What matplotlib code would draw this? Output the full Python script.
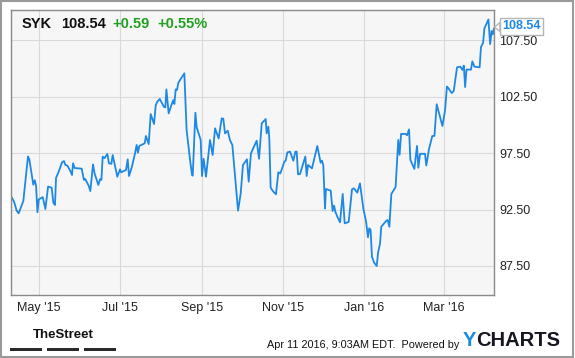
import pandas as pd
import matplotlib
matplotlib.use("Agg")
import matplotlib.pyplot as plt
from matplotlib.patches import Rectangle, Polygon

plt.rcParams['font.family'] = ['Liberation Sans', 'DejaVu Sans']

# SYK daily close (days counted from 2015-04-10)
start = pd.Timestamp('2015-04-10')
days = [0, 2.5, 4.5, 6.0, 9.5, 13.0, 14.0, 17.0, 18.1, 19.1, 20.1, 21.1, 24.1, 26.1, 28.1,
        30.8, 32.1, 33.3, 34.1, 36.1, 38.6, 40.1, 41.1, 42.6, 45.1, 46.1, 46.9, 48.1, 53.4,
        55.1, 56.1, 58.7, 59.9, 61.9, 63.1, 65.9, 67.2, 68.2, 69.2, 70.5, 72.7, 73.9, 75.7,
        76.7, 80.2, 82.2, 83.0, 86.7, 88.0, 89.0, 91.2, 93.5, 94.7, 95.7, 96.7, 100.8, 101.7,
        103.8, 105.3, 107.8, 109.1, 110.3, 112.1, 115.3, 116.3, 117.1, 118.8, 121.3, 122.3,
        123.1, 124.1, 125.1, 126.1, 130.6, 132.3, 134.9, 136.4, 136.9, 138.9, 139.9, 142.9,
        143.9, 145.1, 146.9, 149.9, 151.9, 153.7, 156.4, 158.7, 159.9, 161.2, 163.2, 164.9,
        166.7, 171.0, 173.0, 174.7, 177.7, 179.0, 180.7, 185.0, 186.8, 188.8, 191.8, 192.5,
        193.8, 194.5, 195.5, 197.5, 199.5, 201.3, 202.8, 205.8, 206.8, 208.1, 210.1, 212.6,
        214.1, 215.1, 216.1, 217.6, 220.1, 221.6, 222.6, 223.6, 226.6, 230.6, 233.1, 234.1,
        235.1, 236.4, 237.1, 240.7, 242.1, 243.2, 244.2, 245.7, 247.7, 249.7, 251.2, 254.2,
        256.7, 258.2, 260.7, 262.7, 263.7, 265.2, 267.3, 268.7, 269.7, 270.7, 271.7, 273.3,
        275.3, 276.3, 277.8, 278.7, 282.3, 283.5, 284.8, 286.3, 289.5, 291.5, 292.5, 293.6,
        297.1, 298.1, 299.6, 300.6, 303.6, 305.6, 306.6, 307.9, 311.6, 312.6, 314.6, 317.1,
        318.7, 320.4, 324.7, 326.7, 328.1, 329.2, 331.7, 333.2, 335.7, 338.2, 339.7, 340.8,
        341.8, 342.8, 346.2, 347.2, 348.8, 352.7, 353.7, 355.3, 356.3, 359.3, 360.6, 361.7,
        362.7, 363.5]
prices = [93.73, 93.2, 92.4, 92.17, 93.26, 97.2, 96.95, 94.7, 95.1, 94.6, 92.26, 93.4, 93.6, 92.55, 94.53,
          94.44, 93.1, 92.9, 95.3, 95.86, 96.68, 96.8, 96.45, 96.4, 95.86, 95.56, 96.6, 96.18, 96.12,
          95.12, 95.2, 94.6, 94.14, 96.5, 95.7, 94.68, 95.18, 95.12, 97.19, 97.05, 97.42, 96.6, 96.55,
          97.33, 95.41, 96.06, 95.8, 96.0, 96.95, 95.47, 96.3, 97.48, 98.22, 97.54, 98.13, 98.37, 99.02,
          98.3, 100.96, 100.08, 101.76, 102.06, 102.3, 101.6, 101.55, 103.15, 101.02, 101.9, 102.2,
          101.85, 103.15, 103.1, 103.74, 104.57, 99.55, 96.89, 95.56, 95.5, 101.08, 99.78, 98.66,
          95.47, 97.0, 95.41, 98.66, 97.33, 99.7, 98.8, 100.58, 100.55, 99.25, 99.49, 98.66,
          98.22, 92.4, 93.94, 96.45, 96.95, 94.97, 97.48, 98.6, 97.0, 100.14, 100.52, 99.25,
          99.84, 98.81, 94.44, 94.09, 93.85, 95.8, 95.7, 96.74, 96.83, 97.57, 97.63, 96.83,
          97.63, 97.63, 95.62, 95.65, 96.6, 97.2, 95.47, 96.45, 96.15, 98.13, 96.65, 96.83,
          96.45, 92.6, 94.32, 94.17, 92.37, 92.85, 92.3, 91.86, 91.37, 93.88, 91.28, 91.4,
          94.29, 94.38, 94.0, 94.82, 93.94, 92.6, 91.43, 90.04, 90.84, 90.69, 88.33, 87.8,
          87.5, 88.68, 89.5, 90.98, 91.48, 91.58, 90.98, 93.88, 94.5, 98.67, 97.35, 99.2,
          99.2, 99.08, 99.6, 96.9, 96.1, 98.14, 96.2, 97.44, 97.44, 96.4, 97.85, 99.02,
          99.02, 101.83, 99.9, 101.3, 103.4, 103.26, 102.82, 103.0, 105.1, 105.16, 104.87, 105.25,
          103.35, 104.9, 104.9, 105.63, 105.16, 105.1, 106.9, 107.27, 108.55, 109.34, 107.15, 108.32,
          108.03, 108.54]
yticks = [87.5, 92.5, 97.5, 102.5, 107.5]
xtick_dates = ['2015-05-01', '2015-07-01', '2015-09-01', '2015-11-01', '2016-01-01', '2016-03-01']
xtick_labels = ["May '15", "Jul '15", "Sep '15", "Nov '15", "Jan '16", "Mar '16"]

dates = start + pd.to_timedelta(days, unit='D')

W, H = 575, 358
fig = plt.figure(figsize=(W / 100, H / 100), dpi=100)


def fx(x):
    return x / W


def fy(y):
    return 1 - y / H


ax = fig.add_axes([fx(10.7), fy(295), (494 - 10.7) / W, (295 - 10) / H])
ax.set_facecolor('#f6f6f6')
ax.plot(dates, prices, color='#1e88e5', lw=1.3)

ax.set_xlim(start, start + pd.Timedelta(days=363.5))
ax.set_ylim(84.93, 110.18)
ax.yaxis.tick_right()
ax.set_yticks(yticks)
ax.set_yticklabels([f"{v:.2f}" for v in yticks])
ax.set_xticks(pd.to_datetime(xtick_dates))
ax.set_xticklabels(xtick_labels)
ax.tick_params(length=0, labelsize=9, labelcolor='#222222')
ax.tick_params(axis='x', pad=5)
ax.tick_params(axis='y', pad=4)
ax.grid(True, color='#d9d9d9', lw=0.8)
ax.set_axisbelow(True)
for s in ax.spines.values():
    s.set_color('#8a8a8a')
    s.set_linewidth(1.0)

# header
fig.text(fx(21.5), fy(24), 'SYK', fontsize=10.5, fontweight='bold', va='center', color='#111111')
fig.text(fx(61), fy(24), '108.54', fontsize=10.5, fontweight='bold', va='center', color='#111111')
fig.text(fx(112), fy(24), '+0.59', fontsize=10.5, fontweight='bold', va='center', color='#20a020')
fig.text(fx(157), fy(24), '+0.55%', fontsize=10.5, fontweight='bold', va='center', color='#20a020')

# last price tag with its small pointer
fig.add_artist(Polygon([(fx(494.5), fy(27)), (fx(500), fy(22.5)), (fx(500), fy(31.5))],
                       closed=True, transform=fig.transFigure, fc='white', ec='#b5b5b5', lw=1))
fig.text(fx(521.5), fy(26), '108.54', fontsize=9, fontweight='bold', ha='center', va='center',
         color='#1e88e5',
         bbox=dict(boxstyle='square,pad=0.2', fc='white', ec='#b5b5b5', lw=1))

# footer
fig.text(fx(63), fy(335), 'TheStreet', fontsize=9.5, fontweight='bold', ha='center', va='center',
         color='#111111')
for x0, x1 in [(10, 42), (47, 79), (84, 115.6)]:
    fig.add_artist(Rectangle((fx(x0), fy(351)), (x1 - x0) / W, 3.3 / H,
                             transform=fig.transFigure, color='#2a2a2a', lw=0))
fig.text(fx(459.6), fy(345), 'Apr 11 2016, 9:03AM EDT.  Powered by', fontsize=7.8,
         ha='right', va='center', color='#111111')
fig.text(fx(463), fy(341), 'Y', fontsize=14.5, fontweight='bold', va='center', color='#1a8ae0')
fig.text(fx(476.5), fy(341), 'CHARTS', fontsize=14.5, fontweight='bold', va='center',
         color='#161622')

fig.add_artist(Rectangle((0.001, 0.002), 0.996, 0.995, transform=fig.transFigure,
                         fill=False, ec='#9a9a9a', lw=1.5))

fig.savefig('out.png', dpi=100)
